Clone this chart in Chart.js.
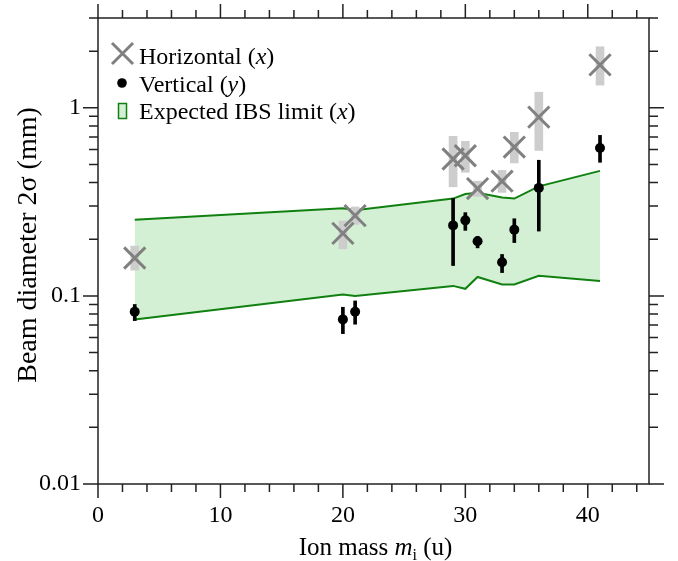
<!DOCTYPE html>
<html>
<head>
<meta charset="utf-8">
<title>Beam diameter vs ion mass</title>
<script src="https://cdn.jsdelivr.net/npm/chart.js@4.4.1/dist/chart.umd.min.js"></script>
<style>
  html, body { margin: 0; padding: 0; background: #fff; }
  canvas { display: block; }
</style>
</head>
<body>
<canvas id="beam" width="678" height="561"></canvas>
<script>
// ion masses (u)
var masses = [3, 20, 21, 29, 30, 31, 33, 34, 36, 41];

// horizontal beam diameter (mm) with error range
var horizontal = [0.159, 0.215, 0.267, 0.534, 0.556, 0.372, 0.407, 0.618, 0.892, 1.69];
var horizontalLow = [0.137, 0.178, 0.240, 0.380, 0.454, 0.338, 0.355, 0.509, 0.593, 1.32];
var horizontalHigh = [0.184, 0.250, 0.297, 0.705, 0.663, 0.407, 0.465, 0.740, 1.21, 2.11];

// vertical beam diameter (mm) with error range
var vertical = [0.0824, 0.075, 0.0824, 0.237, 0.252, 0.195, 0.151, 0.225, 0.375, 0.611];
var verticalLow = [0.0739, 0.063, 0.0707, 0.145, 0.223, 0.180, 0.133, 0.192, 0.221, 0.513];
var verticalHigh = [0.090, 0.087, 0.094, 0.329, 0.277, 0.207, 0.166, 0.257, 0.526, 0.713];

// expected IBS limit band (x)
var ibsUpper = [0.254, 0.292, 0.285, 0.329, 0.348, 0.353, 0.333, 0.329, 0.382, 0.462];
var ibsLower = [0.075, 0.1017, 0.0998, 0.113, 0.109, 0.126, 0.115, 0.115, 0.128, 0.120];

// axis ticks
var xTicks = [0, 10, 20, 30, 40];
var yTicks = [0.01, 0.1, 1];
var yTickLabels = ['0.01', '0.1', '1'];

var SERIF = '"Liberation Serif", "Times New Roman", serif';
var GRAY = 'rgb(128,128,128)';
var LIGHTGRAY = 'rgb(205,205,205)';
var GREEN = 'rgb(16,128,16)';
var GREENFILL = 'rgb(212,240,212)';

function points(vals) {
  return masses.map(function(m, i) { return {x: m, y: vals[i]}; });
}
function ranges(lo, hi) {
  return masses.map(function(m, i) { return {x: m, y: [lo[i], hi[i]]}; });
}

// draws a run of text pieces [text, font, dy] starting at x
function drawRuns(ctx, runs, x, y) {
  runs.forEach(function(r) {
    ctx.font = r[1];
    ctx.fillText(r[0], x, y + (r[2] || 0));
    x += ctx.measureText(r[0]).width;
  });
}
function runsWidth(ctx, runs) {
  var w = 0;
  runs.forEach(function(r) { ctx.font = r[1]; w += ctx.measureText(r[0]).width; });
  return w;
}

var frame = {
  id: 'frame',
  afterDraw: function(chart) {
    var ctx = chart.ctx;
    var a = chart.chartArea;
    var xs = chart.scales.x, ys = chart.scales.y;
    ctx.save();
    ctx.strokeStyle = '#222';
    ctx.lineWidth = 1.5;
    ctx.strokeRect(a.left, a.top, a.right - a.left, a.bottom - a.top);

    // tick marks on all four sides, pointing outward
    ctx.beginPath();
    for (var v = 0; v <= 45; v += 2) {
      var px = xs.getPixelForValue(v);
      var len = (v % 10 === 0) ? 14 : 8;
      ctx.moveTo(px, a.bottom); ctx.lineTo(px, a.bottom + len);
      ctx.moveTo(px, a.top); ctx.lineTo(px, a.top - len);
    }
    for (var e = -2; e <= 0; e++) {
      for (var k = 1; k <= 9; k++) {
        var val = k * Math.pow(10, e);
        if (val > 3.0001) break;
        var py = ys.getPixelForValue(val);
        var l2 = (k === 1) ? 15 : 9;
        ctx.moveTo(a.left, py); ctx.lineTo(a.left - l2, py);
        ctx.moveTo(a.right, py); ctx.lineTo(a.right + l2, py);
      }
    }
    ctx.stroke();

    // axis titles
    ctx.fillStyle = '#000';
    ctx.textBaseline = 'alphabetic';
    var xt = [
      ['Ion mass ', '25px ' + SERIF],
      ['m', 'italic 25px ' + SERIF],
      ['i', '16px ' + SERIF, 5],
      [' (u)', '25px ' + SERIF]
    ];
    var cx = (a.left + a.right) / 2 + 2;
    drawRuns(ctx, xt, cx - runsWidth(ctx, xt) / 2, 555);

    ctx.save();
    ctx.translate(36, 245);
    ctx.rotate(-Math.PI / 2);
    ctx.font = '28px ' + SERIF;
    ctx.textAlign = 'center';
    ctx.fillText('Beam diameter 2\u03c3 (mm)', 0, 0);
    ctx.restore();

    // legend
    ctx.strokeStyle = GRAY;
    ctx.lineWidth = 3;
    ctx.beginPath();
    ctx.moveTo(112, 43); ctx.lineTo(133, 64);
    ctx.moveTo(133, 43); ctx.lineTo(112, 64);
    ctx.stroke();
    ctx.fillStyle = '#000';
    ctx.beginPath();
    ctx.arc(122, 83, 4.8, 0, Math.PI * 2);
    ctx.fill();
    ctx.fillStyle = GREENFILL;
    ctx.fillRect(118.5, 103.5, 8, 15);
    ctx.strokeStyle = GREEN;
    ctx.lineWidth = 1.5;
    ctx.strokeRect(118.5, 103.5, 8, 15);

    ctx.fillStyle = '#000';
    var f = '24px ' + SERIF, fi = 'italic 24px ' + SERIF;
    drawRuns(ctx, [['Horizontal (', f], ['x', fi], [')', f]], 139, 64);
    drawRuns(ctx, [['Vertical (', f], ['y', fi], [')', f]], 139, 92);
    drawRuns(ctx, [['Expected IBS limit (', f], ['x', fi], [')', f]], 139, 119);
    ctx.restore();
  }
};

var ctx = document.getElementById('beam').getContext('2d');
var chart = new Chart(ctx, {
  type: 'scatter',
  data: {
    datasets: [
      {
        type: 'scatter',
        label: 'Vertical (y)',
        data: points(vertical),
        pointStyle: 'circle',
        pointRadius: 5,
        backgroundColor: '#000',
        borderWidth: 0,
        order: 0
      },
      {
        type: 'bar',
        label: 'Vertical error',
        data: ranges(verticalLow, verticalHigh),
        backgroundColor: '#000',
        barThickness: 3,
        grouped: false,
        order: 1
      },
      {
        type: 'scatter',
        label: 'Horizontal (x)',
        data: points(horizontal),
        pointStyle: 'crossRot',
        pointRadius: 15,
        borderColor: GRAY,
        borderWidth: 3,
        order: 2
      },
      {
        type: 'bar',
        label: 'Horizontal error',
        data: ranges(horizontalLow, horizontalHigh),
        backgroundColor: LIGHTGRAY,
        barThickness: 8,
        grouped: false,
        order: 3
      },
      {
        type: 'line',
        label: 'Expected IBS limit (x)',
        data: points(ibsUpper),
        borderColor: GREEN,
        borderWidth: 2,
        pointRadius: 0,
        tension: 0,
        fill: false,
        order: 4
      },
      {
        type: 'line',
        label: 'IBS lower',
        data: points(ibsLower),
        borderColor: GREEN,
        borderWidth: 2,
        backgroundColor: GREENFILL,
        pointRadius: 0,
        tension: 0,
        fill: '-1',
        order: 5
      }
    ]
  },
  options: {
    responsive: false,
    animation: false,
    events: [],
    layout: { padding: { top: 18, right: 29, left: 0, bottom: 0 } },
    plugins: {
      legend: { display: false },
      tooltip: { enabled: false }
    },
    scales: {
      x: {
        type: 'linear',
        position: 'bottom',
        min: 0,
        max: 45,
        offset: false,
        grid: { display: false, drawTicks: false },
        border: { display: false },
        ticks: {
          color: '#000',
          font: { family: SERIF, size: 24 },
          padding: 17,
          maxRotation: 0,
          autoSkip: false
        },
        afterBuildTicks: function(s) {
          s.ticks = xTicks.map(function(v) { return {value: v}; });
        },
        afterFit: function(s) {
          s.height = 77;
          s.paddingLeft = 0;
          s.paddingRight = 0;
        }
      },
      y: {
        type: 'logarithmic',
        position: 'left',
        min: 0.01,
        max: 3,
        grid: { display: false, drawTicks: false },
        border: { display: false },
        ticks: {
          color: '#000',
          font: { family: SERIF, size: 24 },
          padding: 17,
          autoSkip: false,
          callback: function(v) {
            var i = yTicks.indexOf(v);
            return i >= 0 ? yTickLabels[i] : '';
          }
        },
        afterBuildTicks: function(s) {
          s.ticks = yTicks.map(function(v) { return {value: v}; });
        },
        afterFit: function(s) {
          s.width = 98;
          s.paddingTop = 0;
          s.paddingBottom = 0;
        }
      }
    }
  },
  plugins: [frame]
});
</script>
</body>
</html>
